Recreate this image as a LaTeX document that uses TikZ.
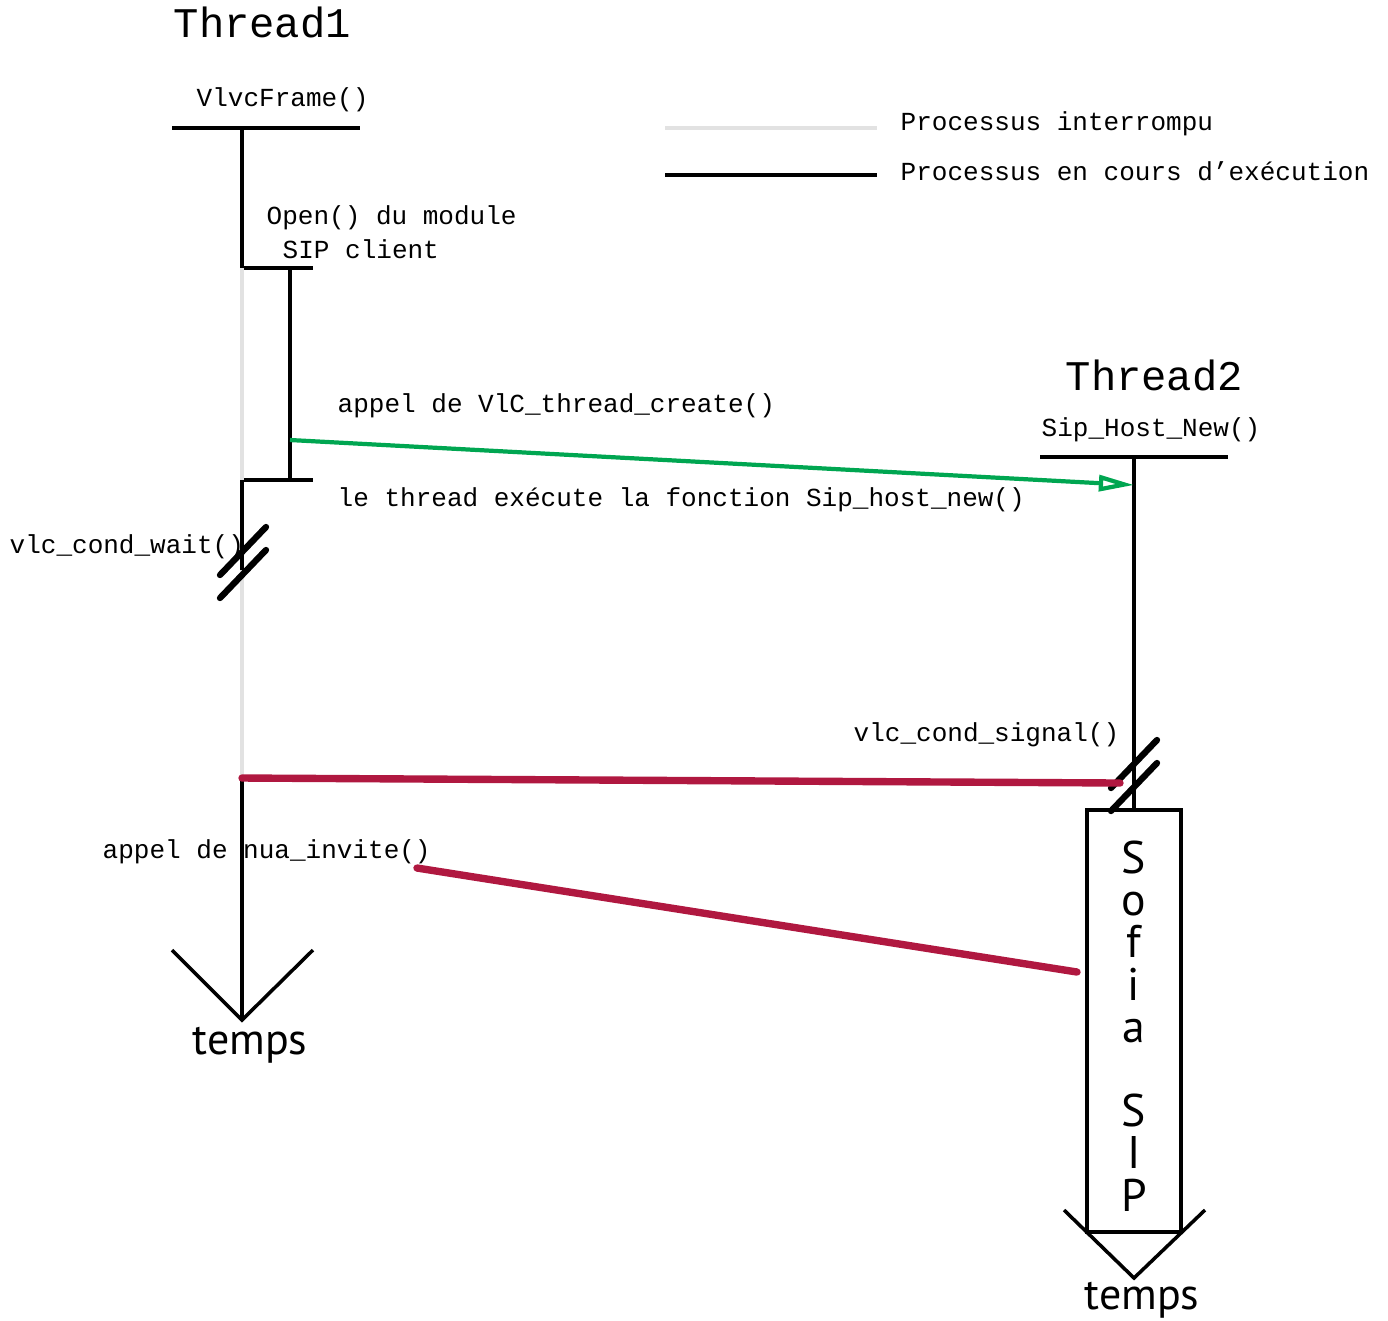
\documentclass[tikz,border=0pt]{standalone}
\usepackage{fontspec}
\usepackage{xcolor}
\usepackage{tikz}
\usetikzlibrary{positioning,arrows.meta}
\newfontfamily\monofont{Liberation Mono}
\newfontfamily\labelfont{PT Sans}
\definecolor{pausegrey}{RGB}{226,226,226}
\definecolor{callgreen}{RGB}{0,166,81}
\definecolor{signalred}{RGB}{176,24,64}
\tikzset{
  lbl/.style={font=\monofont\fontsize{7.4}{9}\selectfont,inner sep=0pt,anchor=west,yshift=-0.8pt},
  title/.style={font=\monofont\fontsize{12}{14}\selectfont,inner sep=0pt,anchor=west},
  run/.style={line width=1pt,black},
  paused/.style={line width=1.2pt,pausegrey},
  brk/.style={line width=1.8pt,line cap=round},
  call/.style={line width=1.2pt,callgreen,-{Triangle[open,length=10pt,width=4.5pt]}},
  signal/.style={line width=2.1pt,signalred,line cap=round},
  timetext/.style={font=\labelfont\fontsize{12.5}{14}\selectfont,inner sep=0pt}
}
\begin{document}
\begin{tikzpicture}[x=0.01cm,y=-0.01cm]
\useasboundingbox (0,0) rectangle (1388,1320);
% Thread1
\node[title] (th1) at (173,22) {Thread1};
\node[lbl] (frame) at (196,97) {VlvcFrame()};
\coordinate (t1top) at (242,128);
\coordinate (t1a) at (242,268);
\coordinate (t1b) at (242,480);
\coordinate (t1c) at (242,570);
\coordinate (t1d) at (242,778);
\coordinate (t1end) at (242,1020);
\draw[run] (172,128) -- (360,128);
\draw[run] (t1top) -- (t1a) -- (313,268);
\draw[run] (290,268) -- (290,480);
\draw[run] (t1b) -- (313,480);
\draw[paused] (t1a) -- (t1b);
\draw[run] (t1b) -- (t1c);
\draw[paused] (t1c) -- (t1d);
\draw[run] (t1d) -- (t1end);
\draw[run] (172,950) -- (t1end) -- (313,950);
\node[timetext] (temps1) at (250,1045) {temps};
\node[lbl] (open1) at (266,215) {Open() du module};
\node[lbl] (open2) at (282,246) {SIP client};
\node[lbl] (wait) at (9,544) {vlc\_cond\_wait()};
% Thread2
\node[title] (th2) at (1065,375) {Thread2};
\node[lbl] (host) at (1041,427) {Sip\_Host\_New()};
\coordinate (t2top) at (1134,457);
\coordinate (t2in) at (1134,485);
\coordinate (t2sig) at (1120,783);
\draw[run] (1040,457) -- (1228,457);
\node[draw,line width=1pt,minimum width=0.94cm,minimum height=4.22cm,inner sep=0pt] (sofia) at (1134,1021) {};
\draw[run] (t2top) -- (sofia.north);
\node[font=\labelfont\fontsize{13}{12}\selectfont,align=center,inner sep=0pt] (sofiatxt) at (1134,1026) {S\\o\\f\\i\\a\\\mbox{}\\S\\I\\P};
\coordinate (t2end) at (1134,1278);
\draw[run] (1064,1210) -- (t2end) -- (1205,1210);
\node[timetext] (temps2) at (1142,1300) {temps};
\node[lbl] (signal) at (853,732) {vlc\_cond\_signal()};
% break marks
\foreach \p in {(243,562),(1134,775)}
  \foreach \d in {0,23}
    \draw[brk,shift={\p}] (-23,13+\d) -- (23,-35+\d);
% messages
\coordinate (callstart) at (290,440);
\draw[call] (callstart) -- (t2in);
\node[lbl] (create) at (337,403) {appel de VlC\_thread\_create()};
\node[lbl] (exec) at (337,497) {le thread exécute la fonction Sip\_host\_new()};
\draw[signal] (t2sig) -- (t1d);
\node[lbl] (invite) at (102,849) {appel de nua\_invite()};
\coordinate (invstart) at (417,868);
\coordinate (invend) at (1077,972);
\draw[signal] (invstart) -- (invend);
% legend
\draw[paused,line width=1.3pt] (665,128) -- (877,128);
\draw[run] (665,175) -- (877,175);
\node[lbl] (leg1) at (900,121) {Processus interrompu};
\node[lbl] (leg2) at (900,168) {Processus en cours d’exécution};
\end{tikzpicture}
\end{document}
